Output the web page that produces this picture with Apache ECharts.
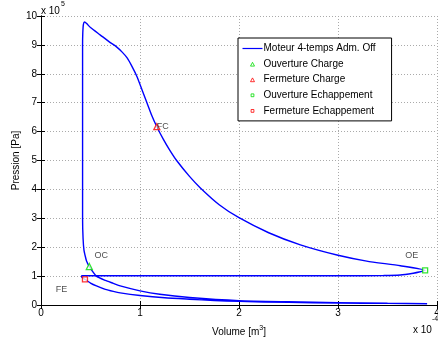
<!DOCTYPE html>
<html>
<head>
<meta charset="utf-8">
<script src="https://cdn.jsdelivr.net/npm/echarts@6/dist/echarts.min.js"></script>
<style>
  html, body { margin: 0; padding: 0; background: #fff; }
  #chart { width: 438px; height: 341px; }
</style>
</head>
<body>
<div id="chart"></div>
<script>
// volume in 1e-4 m3, pression in 1e5 Pa, one closed cycle starting at FE
var volume = [
  0.444, 0.5, 0.56, 0.65, 0.73, 0.8, 1.0, 1.25, 1.5, 1.75, 2.0, 2.5, 3.0, 3.5, 3.9,
  3.5, 3.0, 2.5, 2.0, 1.5, 1.2, 1.0, 0.8, 0.73, 0.65, 0.56, 0.488, 0.46, 0.445, 0.434, 0.425, 0.42, 0.42, 0.42, 0.422, 0.428, 0.44,
  0.5, 0.6, 0.7, 0.76, 0.82, 0.87, 0.92, 0.97, 1.02, 1.07, 1.12, 1.17, 1.235, 1.3, 1.37, 1.5, 1.61, 1.8, 2.0, 2.3, 2.62, 3.0, 3.29, 3.63, 3.88,
  3.82, 3.76, 3.63, 3.46, 3.0, 2.0, 1.0, 0.41, 0.415, 0.444
];
var pression = [
  0.89, 0.76, 0.66, 0.54, 0.47, 0.42, 0.33, 0.25, 0.2, 0.155, 0.125, 0.09, 0.07, 0.055, 0.045,
  0.06, 0.08, 0.11, 0.15, 0.26, 0.37, 0.49, 0.66, 0.75, 0.85, 1.0, 1.33, 1.52, 1.72, 1.9, 2.3, 3.0, 6.0, 9.0, 9.4, 9.7, 9.79,
  9.6, 9.34, 9.08, 8.94, 8.75, 8.55, 8.25, 7.9, 7.45, 7.0, 6.55, 6.17, 5.74, 5.36, 5.0, 4.45, 4.05, 3.47, 3.02, 2.5, 2.08, 1.72, 1.52, 1.36, 1.2,
  1.14, 1.1, 1.04, 1.02, 1.01, 1.01, 1.01, 1.01, 0.95, 0.89
];

// valve events
var ocPoint = [0.488, 1.33];
var fcPoint = [1.17, 6.17];
var oePoint = [3.88, 1.2];
var fePoint = [0.444, 0.89];

// text annotations (left edge of text)
var noteNames = ['OC', 'FC', 'OE', 'FE'];
var noteX = [0.54, 1.17, 3.68, 0.15];
var noteY = [1.7, 6.17, 1.7, 0.52];

var xTicks = ['0', '1', '2', '3', '4'];
var yTicks = ['0', '1', '2', '3', '4', '5', '6', '7', '8', '9', '10'];

var font = 'Liberation Sans, Arial, Helvetica, sans-serif';
var green = '#00dd00';
var red = '#ff0000';

var cycle = volume.map(function (v, i) { return [v, pression[i]]; });
var notes = noteNames.map(function (n, i) { return { name: n, value: [noteX[i], noteY[i]] }; });

var myChart = echarts.init(document.getElementById('chart'));

function axisBase(pos, showLabel, ticks) {
  return {
    type: 'value',
    position: pos,
    min: 0,
    max: ticks.length - 1,
    interval: 1,
    axisLine: { show: true, lineStyle: { color: '#000', width: 1 } },
    axisTick: { show: true, inside: true, length: 4, lineStyle: { color: '#000' } },
    axisLabel: {
      show: showLabel,
      color: '#000',
      fontSize: 10,
      fontFamily: font,
      formatter: function (val) { return ticks[Math.round(val)]; }
    },
    splitLine: { show: false }
  };
}

var xMain = axisBase('bottom', true, xTicks);
xMain.axisLabel.margin = 3;
xMain.splitLine = { show: true, lineStyle: { color: '#aaa', type: [1, 2], width: 1 } };
xMain.name = '{a|Volume [m}{b|3}{a|]}';
xMain.nameLocation = 'middle';
xMain.nameGap = 20;
xMain.nameTextStyle = {
  rich: {
    a: { fontSize: 10, fontFamily: font, color: '#000' },
    b: { fontSize: 7, fontFamily: font, color: '#000', padding: [0, 0, 7, 0] }
  }
};

var yMain = axisBase('left', true, yTicks);
yMain.axisLabel.margin = 4;
yMain.splitLine = { show: true, lineStyle: { color: '#aaa', type: [1, 2], width: 1 } };
yMain.name = 'Pression [Pa]';
yMain.nameLocation = 'middle';
yMain.nameGap = 20;
yMain.nameMoveOverlap = false;
yMain.nameTextStyle = { fontSize: 10, fontFamily: font, color: '#000' };

var xTop = axisBase('top', false, xTicks);
var yRight = axisBase('right', false, yTicks);

function marker(name, pt, shape, color) {
  return {
    name: name,
    type: 'scatter',
    symbol: shape,
    symbolSize: shape === 'triangle' ? 6 : 5,
    itemStyle: { color: '#fff', borderColor: color, borderWidth: 1.3 },
    data: [pt],
    z: 5
  };
}

// legend icons sit in a 20x6 box
var lineIcon = 'path://M0,0 M20,6 M0,2.4 L20,2.4 L20,3.6 L0,3.6 Z';
var triIcon = 'path://M0,0 M20,6 M8,5 L10,1.2 L12,5 Z';
var sqIcon = 'path://M0,0 M20,6 M8.6,1.6 L11.4,1.6 L11.4,4.4 L8.6,4.4 Z';

function legendItem(name, icon, color) {
  return { name: name, icon: icon, itemStyle: { color: '#fff', borderColor: color, borderWidth: 1 } };
}

myChart.setOption({
  animation: false,
  textStyle: { fontFamily: font },
  grid: { left: 41, right: 1, top: 16, bottom: 36, containLabel: false, outerBoundsMode: 'none' },
  xAxis: [xMain, xTop],
  yAxis: [yMain, yRight],
  legend: {
    orient: 'vertical',
    left: 238,
    top: 38,
    padding: [5.5, 16, 5, 4],
    itemWidth: 20,
    itemHeight: 6,
    itemGap: 5.6,
    borderColor: '#000',
    borderWidth: 1,
    backgroundColor: '#fff',
    textStyle: { fontSize: 10, fontFamily: font, color: '#000', padding: [0, 0, 0, -4] },
    data: [
      { name: 'Moteur 4-temps Adm. Off', icon: lineIcon, itemStyle: { color: '#0000ff' } },
      legendItem('Ouverture Charge', triIcon, green),
      legendItem('Fermeture Charge', triIcon, red),
      legendItem('Ouverture Echappement', sqIcon, green),
      legendItem('Fermeture Echappement', sqIcon, red)
    ]
  },
  graphic: [
    { type: 'text', left: 41, top: 6, style: { text: 'x 10', fontSize: 10, fontFamily: font, fill: '#000' } },
    { type: 'text', left: 61, top: 1, style: { text: '5', fontSize: 7, fontFamily: font, fill: '#000' } },
    { type: 'text', left: 413, top: 325, style: { text: 'x 10', fontSize: 10, fontFamily: font, fill: '#000' } },
    { type: 'text', left: 432, top: 316, style: { text: '-4', fontSize: 7, fontFamily: font, fill: '#000' } }
  ],
  series: [
    {
      name: 'Moteur 4-temps Adm. Off',
      type: 'line',
      data: cycle,
      symbol: 'none',
      smooth: 0.2,
      lineStyle: { color: '#0000ff', width: 1.4 },
      itemStyle: { color: '#0000ff' },
      z: 3
    },
    marker('Ouverture Charge', ocPoint, 'triangle', green),
    marker('Fermeture Charge', fcPoint, 'triangle', red),
    marker('Ouverture Echappement', oePoint, 'rect', green),
    marker('Fermeture Echappement', fePoint, 'rect', red),
    {
      name: 'notes',
      type: 'scatter',
      symbolSize: 0,
      data: notes,
      label: {
        show: true,
        position: 'right',
        distance: 0,
        formatter: '{b}',
        fontSize: 9,
        fontFamily: font,
        color: '#222'
      },
      z: 6
    }
  ]
});
</script>
</body>
</html>
